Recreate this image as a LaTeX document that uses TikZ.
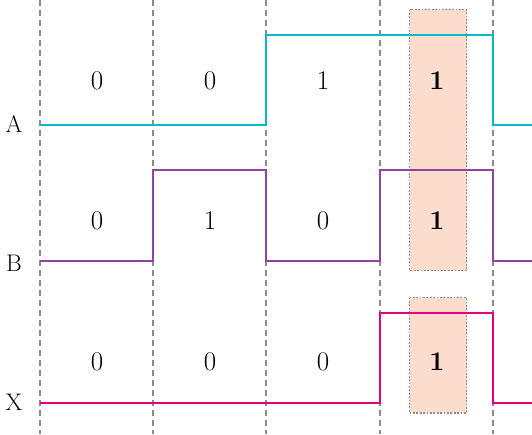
\documentclass[tikz,border=0pt]{standalone}
\usepackage{fontspec}
\usepackage{tikz}
\definecolor{sigA}{RGB}{0,188,200}
\definecolor{sigB}{RGB}{142,68,160}
\definecolor{sigX}{RGB}{230,0,126}
\definecolor{hl}{RGB}{252,220,205}
\definecolor{grid}{RGB}{140,140,140}
\newcommand\valsize{\fontsize{27pt}{29pt}\selectfont}
\newcommand\sigsize{\fontsize{24pt}{26pt}\selectfont}
\tikzset{
  wave/.style={line width=2.6pt, line join=miter},
  divider/.style={draw=grid, line width=1.4pt, dash pattern=on 6pt off 4pt},
  hlbox/.style={fill=hl, draw=grid, line width=1.8pt, dash pattern=on 1.8pt off 1.6pt},
  val/.style={font=\valsize, inner sep=0pt},
  hval/.style={font=\valsize\bfseries, inner sep=0pt},
  sig/.style={font=\sigsize, inner sep=0pt}
}
\begin{document}
\begin{tikzpicture}[x=1pt,y=-1pt]
\useasboundingbox (0,0) rectangle (532,434);
% highlighted column (A=1, B=1 -> X=1)
\draw[hlbox] (409.5,9.5) rectangle (466.5,270.5);
\draw[hlbox] (409.5,297.5) rectangle (466.5,413);
% time slot dividers
\foreach \x/\n in {40/d0,153/d1,266/d2,380/d3,493/d4}{
  \coordinate (\n t) at (\x,0);
  \coordinate (\n b) at (\x,434);
  \draw[divider] (\n t) -- (\n b);
}
% waveforms
\draw[wave, sigA] (40,125) -- (266,125) -- (266,35) -- (493,35) -- (493,125) -- (532,125);
\draw[wave, sigB] (40,261) -- (153,261) -- (153,170) -- (266,170) -- (266,261) -- (380,261) -- (380,170) -- (493,170) -- (493,261) -- (532,261);
\draw[wave, sigX] (40,403) -- (380,403) -- (380,313) -- (493,313) -- (493,403) -- (532,403);
% signal names
\node[sig] (lA) at (14,124) {A};
\node[sig] (lB) at (14,263) {B};
\node[sig] (lX) at (14,402) {X};
% logic values per slot
\node[val] (a1) at (97,81) {0};
\node[val] (a2) at (210,81) {0};
\node[val] (a3) at (323,81) {1};
\node[hval] (a4) at (437,81) {1};
\node[val] (b1) at (97,221) {0};
\node[val] (b2) at (210,221) {1};
\node[val] (b3) at (323,221) {0};
\node[hval] (b4) at (437,221) {1};
\node[val] (x1) at (97,362) {0};
\node[val] (x2) at (210,362) {0};
\node[val] (x3) at (323,362) {0};
\node[hval] (x4) at (437,362) {1};
\end{tikzpicture}
\end{document}
